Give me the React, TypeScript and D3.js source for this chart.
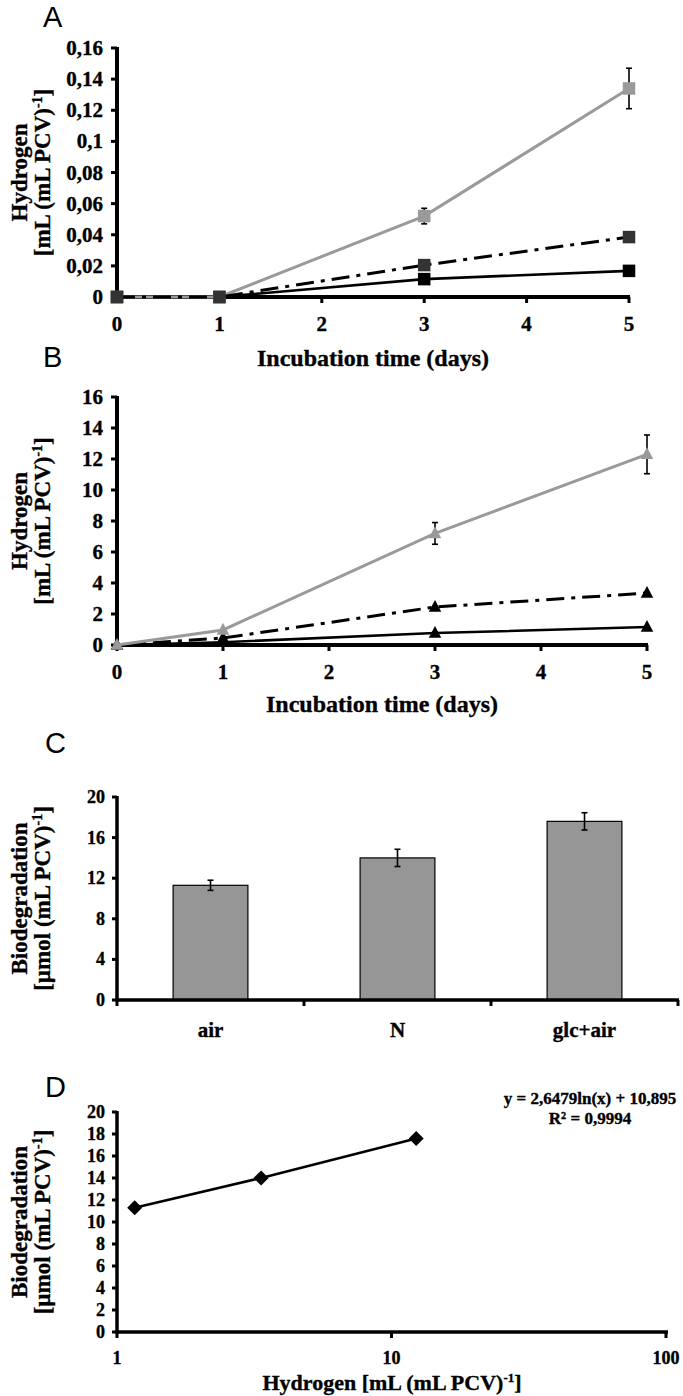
import React from "react";
import * as d3 from "d3";

// ---------- DATA ----------
const days = [0, 1, 3, 5];
const dayTicks = [0, 1, 2, 3, 4, 5];

// Panel A (squares)
const aGray = [0, 0, 0.052, 0.134];
const aGrayErr = [0, 0, 0.005, 0.013];
const aDash = [0, 0, 0.0205, 0.0385];
const aBlack = [0, 0, 0.0115, 0.0168];
const aYTicks = [0, 0.02, 0.04, 0.06, 0.08, 0.1, 0.12, 0.14, 0.16];
const aYTickLabels = ["0", "0,02", "0,04", "0,06", "0,08", "0,1", "0,12", "0,14", "0,16"];

// Panel B (triangles)
const bGray = [0, 0.97, 7.2, 12.3];
const bGrayErr = [0, 0, 0.7, 1.25];
const bDash = [0, 0.45, 2.45, 3.35];
const bBlack = [0, 0.18, 0.77, 1.16];
const bYTicks = [0, 2, 4, 6, 8, 10, 12, 14, 16];

// Panel C (bars)
const categories = ["air", "N", "glc+air"];
const biodeg = [11.3, 14.0, 17.6];
const biodegErr = [0.5, 0.85, 0.85];
const cYTicks = [0, 4, 8, 12, 16, 20];

// Panel D (log fit)
const hydrogen = [1.16, 3.35, 12.3];
const dYTicks = [0, 2, 4, 6, 8, 10, 12, 14, 16, 18, 20];
const dXTicks = [1, 10, 100];
const equationLines = ["y = 2,6479ln(x) + 10,895", "R² = 0,9994"];

// ---------- STYLE ----------
const SERIF = "'Liberation Serif', 'Times New Roman', serif";
const SANS = "'Liberation Sans', Arial, sans-serif";
const GRAY = "#9a9a9a";
const DARK = "#333333";
const DASHDOT = "18 7 4 7";
const TXT = { fontFamily: SERIF, fontWeight: "bold" as const, stroke: "#000", strokeWidth: 0.35 };

function square(x: number, y: number, s: number, fill: string, key: string) {
  return <rect key={key} x={x - s / 2} y={y - s / 2} width={s} height={s} fill={fill} />;
}
function triangle(x: number, y: number, s: number, fill: string, key: string) {
  const h = s * 0.95;
  return (
    <path key={key} d={`M${x},${y - h * 0.6}L${x + s / 2},${y + h * 0.4}L${x - s / 2},${y + h * 0.4}Z`} fill={fill} />
  );
}
function diamond(x: number, y: number, s: number, fill: string, key: string) {
  return <path key={key} d={`M${x},${y - s / 2}L${x + s / 2},${y}L${x},${y + s / 2}L${x - s / 2},${y}Z`} fill={fill} />;
}

function errBar(x: number, y1: number, y2: number, key: string) {
  return (
    <g key={key} stroke="#000" strokeWidth={1.6}>
      <line x1={x} x2={x} y1={y1} y2={y2} />
      <line x1={x - 3} x2={x + 3} y1={y1} y2={y1} />
      <line x1={x - 3} x2={x + 3} y1={y2} y2={y2} />
    </g>
  );
}

function YTitle({ x1, x2, cy, line1, line2 }: { x1: number; x2: number; cy: number; line1: string; line2: string }) {
  return (
    <g {...TXT} fontSize={23} textAnchor="middle">
      <text transform={`translate(${x1},${cy}) rotate(-90)`}>{line1}</text>
      <text transform={`translate(${x2},${cy}) rotate(-90)`}>
        {line2}
        <tspan fontSize={14} dy={-8}>-1</tspan>
        <tspan dy={8}>]</tspan>
      </text>
    </g>
  );
}

function TimePanel({
  top, label, xr, yr, yDomain, yTicks, yTickLabels, gray, grayErr, dash, black, marker, order, xTickY, titleY,
}: any) {
  const x = d3.scaleLinear().domain([0, 5]).range(xr);
  const y = d3.scaleLinear().domain(yDomain).range(yr);
  const line = d3.line<number>().x((_, i) => x(days[i])).y((v) => y(v));
  const series: Record<string, any> = {
    black: (
      <g key="black">
        <path d={line(black)!} fill="none" stroke="#000" strokeWidth={2.6} />
        {black.map((v: number, i: number) => marker(x(days[i]), y(v), 12.5, "#000", "b" + i))}
      </g>
    ),
    gray: (
      <g key="gray">
        <path d={line(gray)!} fill="none" stroke={GRAY} strokeWidth={3} />
        {gray.map((v: number, i: number) =>
          grayErr[i] > 0 ? errBar(x(days[i]), y(v + grayErr[i]), y(v - grayErr[i]), "e" + i) : null
        )}
        {gray.map((v: number, i: number) => marker(x(days[i]), y(v), 12.5, GRAY, "g" + i))}
      </g>
    ),
    dash: (
      <g key="dash">
        <path d={line(dash)!} fill="none" stroke="#000" strokeWidth={3} strokeDasharray={DASHDOT} />
        {dash.map((v: number, i: number) => marker(x(days[i]), y(v), 12.5, label === "A" ? DARK : "#000", "d" + i))}
      </g>
    ),
  };
  const x0 = xr[0];
  const y0 = yr[0];
  return (
    <g>
      <text x={43} y={top} fontFamily={SANS} fontSize={29}>{label}</text>
      {/* axes */}
      <g stroke="#000">
        <line x1={x0} x2={x0} y1={yr[1] - 1} y2={y0 + 2} strokeWidth={4} />
        <line x1={x0 - 2} x2={xr[1] + 1} y1={y0} y2={y0} strokeWidth={4} />
        {yTicks.map((t: number) => (
          <line key={t} x1={x0 - 6} x2={x0} y1={y(t)} y2={y(t)} strokeWidth={3} />
        ))}
        {dayTicks.map((t) => (
          <line key={t} x1={x(t)} x2={x(t)} y1={y0} y2={y0 + 6} strokeWidth={3} />
        ))}
      </g>
      {order.map((k: string) => series[k])}
      <g {...TXT} fontSize={21}>
        {yTicks.map((t: number, i: number) => (
          <text key={t} x={x0 - 14} y={y(t) + 7} textAnchor="end">{yTickLabels[i]}</text>
        ))}
        {dayTicks.map((t) => (
          <text key={t} x={x(t)} y={xTickY} textAnchor="middle">{t}</text>
        ))}
        <text x={(xr[0] + xr[1]) / 2} y={titleY} textAnchor="middle" fontSize={24}>Incubation time (days)</text>
      </g>
      <YTitle x1={27} x2={50} cy={(yr[0] + yr[1]) / 2} line1="Hydrogen" line2="[mL (mL PCV)" />
    </g>
  );
}

function BarPanel() {
  const xr = [117, 678];
  const yr = [1000, 797];
  const x = d3.scaleBand<string>().domain(categories).range(xr as [number, number]).paddingInner(0.6).paddingOuter(0.3);
  const y = d3.scaleLinear().domain([0, 20]).range(yr);
  const step = (xr[1] - xr[0]) / categories.length;
  const bounds = d3.range(categories.length + 1).map((i) => xr[0] + i * step);
  return (
    <g>
      <text x={45} y={753} fontFamily={SANS} fontSize={29}>C</text>
      {biodeg.map((v, i) => (
        <rect key={i} x={x(categories[i])} y={y(v)} width={x.bandwidth()} height={y(0) - y(v)} fill="#969696" stroke="#000" strokeWidth={1.2} />
      ))}
      {biodeg.map((v, i) => errBar(x(categories[i])! + x.bandwidth() / 2, y(v + biodegErr[i]), y(v - biodegErr[i]), "ce" + i))}
      <g stroke="#000">
        <line x1={xr[0]} x2={xr[0]} y1={yr[1] - 1} y2={yr[0] + 2} strokeWidth={3.5} />
        <line x1={xr[0] - 2} x2={xr[1] + 1} y1={yr[0]} y2={yr[0]} strokeWidth={3.5} />
        {cYTicks.map((t) => (
          <line key={t} x1={xr[0] - 5} x2={xr[0]} y1={y(t)} y2={y(t)} strokeWidth={3} />
        ))}
        {bounds.map((b, i) => (
          <line key={i} x1={b} x2={b} y1={yr[0]} y2={yr[0] + 6} strokeWidth={3} />
        ))}
      </g>
      <g {...TXT} fontSize={18}>
        {cYTicks.map((t) => (
          <text key={t} x={xr[0] - 12} y={y(t) + 6} textAnchor="end">{t}</text>
        ))}
      </g>
      <g {...TXT} fontSize={21}>
        {categories.map((c) => (
          <text key={c} x={x(c)! + x.bandwidth() / 2} y={1037} textAnchor="middle">{c}</text>
        ))}
      </g>
      <YTitle x1={27} x2={50} cy={(yr[0] + yr[1]) / 2} line1="Biodegradation" line2="[µmol (mL PCV)" />
    </g>
  );
}

function LogPanel() {
  const xr = [117, 666];
  const yr = [1332, 1112];
  const x = d3.scaleLog().domain([1, 100]).range(xr);
  const y = d3.scaleLinear().domain([0, 20]).range(yr);
  const line = d3.line<number>().x((_, i) => x(hydrogen[i])).y((v) => y(v));
  return (
    <g>
      <text x={45} y={1097} fontFamily={SANS} fontSize={29}>D</text>
      <g stroke="#000">
        <line x1={xr[0]} x2={xr[0]} y1={yr[1] - 1} y2={yr[0] + 2} strokeWidth={3.5} />
        <line x1={xr[0] - 2} x2={xr[1] + 2} y1={yr[0]} y2={yr[0]} strokeWidth={3.5} />
        {dYTicks.map((t) => (
          <line key={t} x1={xr[0] - 5} x2={xr[0]} y1={y(t)} y2={y(t)} strokeWidth={3} />
        ))}
        {dXTicks.map((t) => (
          <line key={t} x1={x(t)} x2={x(t)} y1={yr[0]} y2={yr[0] + 6} strokeWidth={3} />
        ))}
      </g>
      <path d={line(biodeg)!} fill="none" stroke="#000" strokeWidth={2.6} />
      {biodeg.map((v, i) => diamond(x(hydrogen[i]), y(v), 15, "#000", "dm" + i))}
      <g {...TXT} fontSize={18}>
        {dYTicks.map((t) => (
          <text key={t} x={xr[0] - 12} y={y(t) + 6} textAnchor="end">{t}</text>
        ))}
        {dXTicks.map((t) => (
          <text key={t} x={x(t)} y={1364} textAnchor="middle">{t}</text>
        ))}
      </g>
      <g {...TXT} fontSize={17}>
        {equationLines.map((l, i) => (
          <text key={i} x={590} y={1104 + i * 20} textAnchor="middle">{l}</text>
        ))}
      </g>
      <text x={392} y={1390} textAnchor="middle" {...TXT} fontSize={22}>
        Hydrogen [mL (mL PCV)
        <tspan fontSize={13} dy={-8}>-1</tspan>
        <tspan dy={8}>]</tspan>
      </text>
      <YTitle x1={27} x2={50} cy={(yr[0] + yr[1]) / 2} line1="Biodegradation" line2="[µmol (mL PCV)" />
    </g>
  );
}

export default function App() {
  return (
    <svg width={683} height={1396} style={{ position: "absolute", left: 0, top: 0, background: "#fff" }}>
      <rect width={683} height={1396} fill="#fff" />
      <TimePanel
        top={27} label="A" xr={[117, 629]} yr={[297, 48]} yDomain={[0, 0.16]}
        yTicks={aYTicks} yTickLabels={aYTickLabels}
        gray={aGray} grayErr={aGrayErr} dash={aDash} black={aBlack}
        marker={square} order={["black", "gray", "dash"]} xTickY={331} titleY={366}
      />
      <TimePanel
        top={367} label="B" xr={[117, 647]} yr={[645, 397]} yDomain={[0, 16]}
        yTicks={bYTicks} yTickLabels={bYTicks.map(String)}
        gray={bGray} grayErr={bGrayErr} dash={bDash} black={bBlack}
        marker={triangle} order={["black", "dash", "gray"]} xTickY={679} titleY={712}
      />
      <BarPanel />
      <LogPanel />
    </svg>
  );
}
